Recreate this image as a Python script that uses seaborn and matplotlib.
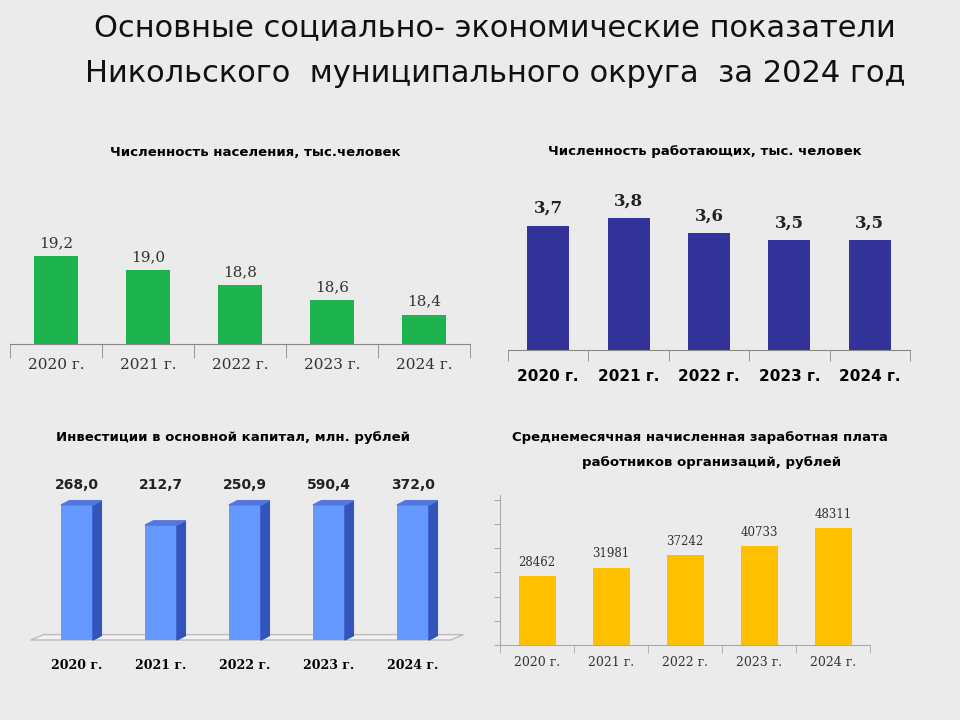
import matplotlib.pyplot as plt
import seaborn as sns
from matplotlib.patches import Polygon

plt.rcParams['font.family'] = 'DejaVu Sans'

years = ['2020 г.', '2021 г.', '2022 г.', '2023 г.', '2024 г.']
population = [19.2, 19.0, 18.8, 18.6, 18.4]
workers = [3.7, 3.8, 3.6, 3.5, 3.5]
investments = [268.0, 212.7, 250.9, 590.4, 372.0]
salary = [28462, 31981, 37242, 40733, 48311]

W, H = 960, 720
fig = plt.figure(figsize=(9.6, 7.2), dpi=100)
fig.patch.set_facecolor('#ebebeb')


def ax_px(x0, y_top, x1, y_bot):
    return fig.add_axes([x0 / W, 1 - y_bot / H, (x1 - x0) / W, (y_bot - y_top) / H])


def txt(x, y, s, **kw):
    fig.text(x / W, 1 - y / H, s, ha='center', va='center', **kw)


def barplot(ax, values, color, width=0.5):
    sns.barplot(x=years, y=values, color=color, width=width, ax=ax, saturation=1)
    ax.set_facecolor('none')
    ax.set_xlabel('')
    ax.set_ylabel('')
    ax.set_yticks([])
    for s in ['top', 'right', 'left']:
        ax.spines[s].set_visible(False)


fmt = lambda v: f'{v:.1f}'.replace('.', ',')

txt(495, 28, 'Основные социально- экономические показатели', fontsize=22, color='#111')
txt(495, 74, 'Никольского  муниципального округа  за 2024 год', fontsize=22, color='#111')

# panel 1
ax1 = ax_px(10, 230, 470, 344)
barplot(ax1, population, '#1db44f', 0.48)
ax1.set_ylim(18.0, 19.55)
ax1.spines['bottom'].set_color('#888')
ax1.set_xticks([i + 0.5 for i in range(-1, 5)], minor=True)
ax1.tick_params(axis='x', which='minor', length=10, color='#888')
ax1.tick_params(axis='x', which='major', length=0, pad=10)
ax1.set_xticklabels(years, family='DejaVu Serif', fontsize=11, color='#333')
for i, v in enumerate(population):
    ax1.text(i, v + 0.08, fmt(v), ha='center', va='bottom', family='DejaVu Serif', fontsize=11, color='#333')
txt(255, 152, 'Численность населения, тыс.человек', fontsize=9.5, fontweight='bold')

# panel 2
ax2 = ax_px(508, 200, 910, 350)
barplot(ax2, workers, '#333399', 0.52)
ax2.set_ylim(2.0, 4.05)
ax2.spines['bottom'].set_color('#888')
ax2.set_xticks([i + 0.5 for i in range(-1, 5)], minor=True)
ax2.tick_params(axis='x', which='minor', length=8, color='#888')
ax2.tick_params(axis='x', which='major', length=0, pad=14)
ax2.set_xticklabels(years, fontsize=11, fontweight='bold')
for i, v in enumerate(workers):
    ax2.text(i, v + 0.12, fmt(v), ha='center', va='bottom', family='DejaVu Serif', fontsize=12, fontweight='bold', color='#222')
txt(705, 152, 'Численность работающих, тыс. человек', fontsize=9.5, fontweight='bold')

# panel 3 (pseudo-3D)
ax3 = ax_px(35, 505, 455, 640)
barplot(ax3, investments, '#6699ff', 0.38)
ax3.set_ylim(0, 250)
ax3.spines['bottom'].set_visible(False)
ax3.tick_params(axis='x', length=0, pad=14)
ax3.set_xticklabels(years, family='DejaVu Serif', fontsize=9, fontweight='bold')
dx, dy = 0.1, 8
for p in ax3.patches:
    x0, w, h = p.get_x(), p.get_width(), min(p.get_height(), 250)
    ax3.add_patch(Polygon([(x0 + w, 0), (x0 + w + dx, dy), (x0 + w + dx, h + dy), (x0 + w, h)],
                          closed=True, color='#3355bb', clip_on=False))
    ax3.add_patch(Polygon([(x0, h), (x0 + dx, h + dy), (x0 + w + dx, h + dy), (x0 + w, h)],
                          closed=True, color='#5577dd', clip_on=False))
ax3.add_patch(Polygon([(-0.55, 0), (-0.4, 10), (4.6, 10), (4.45, 0)], closed=True,
                      facecolor='#f2f2f2', edgecolor='#bbb', clip_on=False, zorder=0))
for i, v in enumerate(investments):
    ax3.text(i, 1.15, fmt(v), transform=ax3.get_xaxis_transform(), ha='center', va='center',
             fontsize=10, fontweight='bold', color='#222')
txt(233, 438, 'Инвестиции в основной капитал, млн. рублей', fontsize=9.5, fontweight='bold')

# panel 4
ax4 = ax_px(500, 495, 870, 645)
barplot(ax4, salary, '#ffc000', 0.5)
ax4.set_ylim(0, 62000)
ax4.spines['left'].set_visible(True)
ax4.spines['left'].set_color('#aaa')
ax4.spines['bottom'].set_color('#aaa')
ax4.set_yticks(range(0, 62000, 10000))
ax4.set_yticklabels([])
ax4.tick_params(axis='y', length=4, color='#aaa')
ax4.set_xticks([i + 0.5 for i in range(-1, 5)], minor=True)
ax4.tick_params(axis='x', which='minor', length=6, color='#aaa')
ax4.tick_params(axis='x', which='major', length=0, pad=8)
ax4.set_xticklabels(years, family='DejaVu Serif', fontsize=9, color='#333')
for i, v in enumerate(salary):
    ax4.text(i, v + 3000, str(v), ha='center', va='bottom', family='DejaVu Serif', fontsize=8.5, color='#333')
txt(700, 438, 'Среднемесячная начисленная заработная плата', fontsize=9.5, fontweight='bold')
txt(712, 462, 'работников организаций, рублей', fontsize=9.5, fontweight='bold')

fig.savefig('out.png', dpi=100, facecolor=fig.get_facecolor())
